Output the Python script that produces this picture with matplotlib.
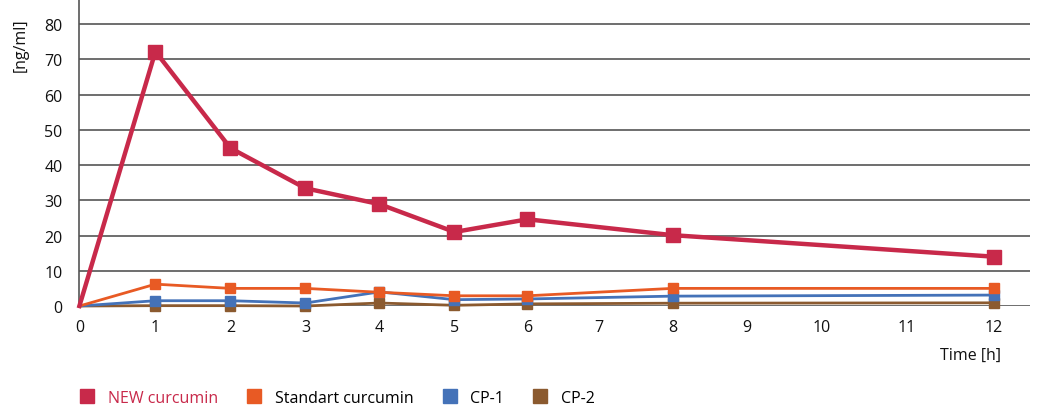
import matplotlib
matplotlib.use("Agg")
import matplotlib.pyplot as plt
from matplotlib.lines import Line2D
import numpy as np

plt.rcParams['font.family'] = ['Open Sans', 'DejaVu Sans']

# datos
hours = [0, 1, 2, 3, 4, 5, 6, 8, 12]
new_curcumin = [0, 72.2, 44.8, 33.4, 28.9, 21.0, 24.6, 20.1, 14.0]
standart_curcumin = [0, 6.2, 5.0, 5.0, 3.9, 2.9, 2.9, 5.0, 5.0]
cp1 = [0, 1.5, 1.5, 0.85, 4.0, 1.8, 2.0, 2.8, 3.1]
cp2 = [0, 0.1, 0.1, 0.0, 0.85, 0.2, 0.6, 0.8, 0.9]
series_names = ['NEW curcumin', 'Standart curcumin', 'CP-1', 'CP-2']
colors = ['#C8294A', '#E85A24', '#4472B8', '#8B5A2F']

# el eje x del original no es uniforme, lo imito con una escala por tramos
x_ticks = [0, 1, 2, 3, 4, 5, 6, 7, 8, 9, 10, 11, 12, 13]
x_pos = [0, 76, 151, 226, 300, 375, 448, 519, 593, 667, 742, 827, 914, 1000]


def fwd(x):
    return np.interp(x, x_ticks, x_pos)


def inv(p):
    return np.interp(p, x_pos, x_ticks)


fig = plt.figure(figsize=(10.38, 4.10), dpi=100)
ax = fig.add_axes([0.0765, 0.2512, 0.9155, 0.7488])
ax.set_xscale('function', functions=(fwd, inv))

for c, vals, lw, ms in [(colors[3], cp2, 2, 7), (colors[2], cp1, 2, 7),
                        (colors[1], standart_curcumin, 2, 7), (colors[0], new_curcumin, 3.2, 10)]:
    ax.plot(hours, vals, color=c, lw=lw, marker='s', markersize=ms, markevery=list(range(1, len(hours))),
            clip_on=False, zorder=3)

ax.set_xlim(0, 12.42)
ax.set_ylim(0, 87.1)
ax.set_yticks(range(0, 81, 10))
ax.set_xticks(range(0, 13))
ax.set_xticklabels([str(i) for i in range(0, 13)])
ax.minorticks_off()
ax.grid(axis='y', color='#555555', lw=1.2)
ax.set_axisbelow(True)
for s in ['top', 'right', 'bottom']:
    ax.spines[s].set_visible(False)
ax.spines['left'].set_color('#555555')
ax.spines['left'].set_linewidth(1.2)
ax.tick_params(length=0, labelsize=11.5, colors='#111111')
ax.tick_params(axis='y', pad=12)
ax.tick_params(axis='x', pad=9)

fig.text(0.935, 0.133, 'Time [h]', fontsize=11.5, ha='center', va='center', color='#111111')
fig.text(0.02, 0.89, '[ng/ml]', fontsize=11.5, rotation=90, ha='center', va='center', color='#111111')

handles = [Line2D([], [], color=c, marker='s', markersize=10, ls='') for c in colors]
leg = fig.legend(handles, series_names, loc='lower left', bbox_to_anchor=(0.055, -0.027), ncol=4,
                 frameon=False, fontsize=11.5, handletextpad=0.3, columnspacing=1.25)
leg.get_texts()[0].set_color(colors[0])

plt.savefig('out.png', dpi=100)
